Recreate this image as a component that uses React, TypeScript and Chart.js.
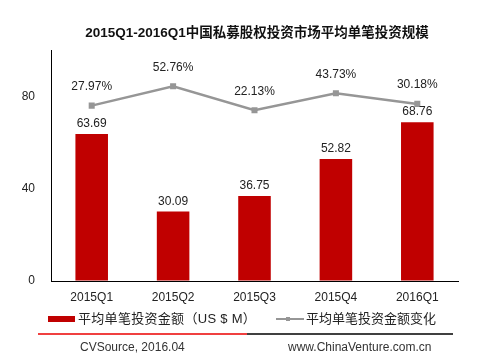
import React, { useEffect, useRef } from "react";
import { Chart, registerables } from "chart.js";

Chart.register(...registerables);

const categories = ["2015Q1", "2015Q2", "2015Q3", "2015Q4", "2016Q1"];
const avgAmount = [63.69, 30.09, 36.75, 52.82, 68.76];
const avgChange = [27.97, 52.76, 22.13, 43.73, 30.18];
const yTicks = [0, 40, 80];

const titleText = "2015Q1-2016Q1中国私募股权投资市场平均单笔投资规模";
const barLegend = "平均单笔投资金额（US $ M）";
const lineLegend = "平均单笔投资金额变化";
const sourceText = "CVSource, 2016.04";
const siteText = "www.ChinaVenture.com.cn";

const FONT = '"Liberation Sans", Arial, "Noto Sans CJK SC", sans-serif';
const BAR_COLOR = "#C00000";
const LINE_COLOR = "#969696";

const labelPlugin = {
  id: "valueLabels",
  afterDatasetsDraw(chart: any) {
    const ctx = chart.ctx;
    ctx.save();
    ctx.font = `12px ${FONT}`;
    ctx.fillStyle = "#222";
    ctx.textAlign = "center";
    ctx.textBaseline = "middle";
    chart.data.datasets.forEach((ds: any, di: number) => {
      const meta = chart.getDatasetMeta(di);
      meta.data.forEach((el: any, i: number) => {
        const v = ds.data[i];
        if (ds.type === "line") {
          ctx.fillText(v.toFixed(2) + "%", el.x, el.y - 19);
        } else {
          ctx.fillText(v.toFixed(2), el.x, el.y - 10);
        }
      });
    });
    ctx.restore();
  },
};

export default function App() {
  const ref = useRef<HTMLCanvasElement>(null);

  useEffect(() => {
    document.body.style.margin = "0";
    const chart = new Chart(ref.current!, {
      type: "bar",
      data: {
        labels: categories,
        datasets: [
          {
            type: "line",
            label: lineLegend,
            data: avgChange,
            yAxisID: "y1",
            borderColor: LINE_COLOR,
            borderWidth: 2.5,
            pointStyle: "rect",
            pointRadius: 2.5,
            pointBackgroundColor: LINE_COLOR,
            pointBorderColor: LINE_COLOR,
            tension: 0,
            order: 0,
          } as any,
          {
            type: "bar",
            label: barLegend,
            data: avgAmount,
            yAxisID: "y",
            backgroundColor: BAR_COLOR,
            barPercentage: 0.4,
            categoryPercentage: 1,
            order: 1,
          },
        ],
      },
      options: {
        responsive: false,
        animation: false,
        layout: { padding: { left: 0, right: 33, top: 50, bottom: 0 } },
        plugins: {
          legend: { display: false },
          title: { display: false },
          tooltip: { enabled: false },
        },
        scales: {
          x: {
            grid: { display: true, drawOnChartArea: false, drawTicks: false, color: "transparent" },
            border: { display: true, color: "#000", width: 1 },
            ticks: { color: "#222", font: { family: FONT, size: 12 }, padding: 9 },
            afterFit: (s: any) => {
              s.height = 82;
            },
          },
          y: {
            min: 0,
            max: 100,
            position: "left",
            grid: { display: true, drawOnChartArea: false, drawTicks: false, color: "transparent" },
            border: { display: true, color: "#000", width: 1 },
            ticks: { color: "#222", font: { family: FONT, size: 12 }, padding: 16 },
            afterBuildTicks: (s: any) => {
              s.ticks = yTicks.map((v) => ({ value: v }));
            },
            afterFit: (s: any) => {
              s.width = 51;
            },
          },
          y1: {
            display: false,
            min: -196,
            max: 99,
          },
        },
      },
      plugins: [labelPlugin],
    });
    return () => chart.destroy();
  }, []);

  const txt: React.CSSProperties = {
    position: "absolute",
    fontFamily: FONT,
    whiteSpace: "nowrap",
    lineHeight: "16px",
  };

  return (
    <div style={{ position: "relative", width: 491, height: 363, background: "#fff", overflow: "hidden" }}>
      <canvas ref={ref} width={491} height={363} style={{ position: "absolute", left: 0, top: 0 }} />
      <div style={{ ...txt, left: 0, width: 514, top: 25, textAlign: "center", fontWeight: "bold", fontSize: 13.5, color: "#111" }}>
        {titleText}
      </div>
      {/* legend */}
      <div style={{ position: "absolute", left: 48, top: 316, width: 27, height: 6, background: BAR_COLOR }} />
      <div style={{ ...txt, left: 78, top: 311, fontSize: 13, color: "#222", letterSpacing: "0.3px" }}>{barLegend}</div>
      <div style={{ position: "absolute", left: 276, top: 318, width: 28, height: 2, background: LINE_COLOR }} />
      <div style={{ position: "absolute", left: 286, top: 317, width: 4, height: 4, background: LINE_COLOR }} />
      <div style={{ ...txt, left: 306, top: 311, fontSize: 13, color: "#222" }}>{lineLegend}</div>
      {/* separator */}
      <div style={{ position: "absolute", left: 38, top: 333, width: 209, height: 2, background: "#F04040" }} />
      <div style={{ position: "absolute", left: 247, top: 333, width: 206, height: 2, background: "#404040" }} />
      {/* footer */}
      <div style={{ ...txt, left: 80, top: 339, fontSize: 12, color: "#333" }}>{sourceText}</div>
      <div style={{ ...txt, left: 288, top: 339, fontSize: 12, color: "#333" }}>{siteText}</div>
    </div>
  );
}
